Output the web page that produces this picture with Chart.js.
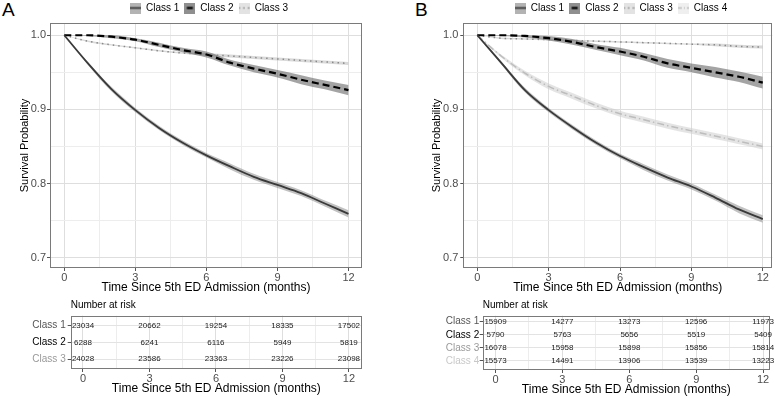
<!DOCTYPE html>
<html>
<head>
<meta charset="utf-8">
<script src="https://cdn.jsdelivr.net/npm/chart.js@4.4.1/dist/chart.umd.min.js"></script>
<style>
  html, body { margin: 0; padding: 0; background: #fff; overflow: hidden; width: 779px; height: 398px; }
  canvas { position: absolute; }
  .lab { position: absolute; font: 19px "Liberation Sans", Arial, sans-serif; color: #000; }
</style>
</head>
<body>
<div class="lab" style="left:2px;top:-1px">A</div>
<div class="lab" style="left:415px;top:-1px">B</div>
<canvas id="mainA" width="418" height="298" style="left:0;top:0"></canvas>
<canvas id="mainB" width="462" height="298" style="left:390px;top:0"></canvas>
<canvas id="riskA" width="390" height="103" style="left:0;top:295px"></canvas>
<canvas id="riskB" width="389" height="103" style="left:390px;top:295px"></canvas>
<script>
// survival estimates, one value per month
const months = [0, 1, 2, 3, 4, 5, 6, 7, 8, 9, 10, 11, 12];
const classNames = ["Class 1", "Class 2", "Class 3", "Class 4"];

// panel A
const survA1 = [1.000, 0.962, 0.927, 0.899, 0.875, 0.855, 0.838, 0.823, 0.809, 0.798, 0.787, 0.773, 0.759];
const lowA1  = [1.000, 0.960, 0.924, 0.896, 0.872, 0.852, 0.835, 0.819, 0.805, 0.794, 0.783, 0.769, 0.754];
const highA1 = [1.000, 0.964, 0.930, 0.902, 0.878, 0.858, 0.841, 0.827, 0.813, 0.802, 0.791, 0.777, 0.764];
const survA2 = [1.000, 1.000, 0.998, 0.994, 0.987, 0.980, 0.974, 0.963, 0.955, 0.948, 0.940, 0.933, 0.926];
const lowA2  = [1.000, 0.999, 0.996, 0.992, 0.984, 0.977, 0.970, 0.959, 0.950, 0.943, 0.934, 0.927, 0.919];
const highA2 = [1.000, 1.000, 1.000, 0.996, 0.990, 0.983, 0.978, 0.967, 0.960, 0.953, 0.946, 0.939, 0.933];
const survA3 = [1.000, 0.992, 0.987, 0.983, 0.979, 0.976, 0.974, 0.972, 0.970, 0.968, 0.966, 0.964, 0.962];
const lowA3  = [1.000, 0.991, 0.986, 0.982, 0.978, 0.975, 0.972, 0.970, 0.968, 0.966, 0.964, 0.962, 0.960];
const highA3 = [1.000, 0.993, 0.988, 0.984, 0.980, 0.977, 0.976, 0.974, 0.972, 0.970, 0.968, 0.966, 0.964];

// panel B
const survB1 = [1.000, 0.963, 0.926, 0.899, 0.876, 0.855, 0.837, 0.822, 0.808, 0.796, 0.781, 0.765, 0.752];
const lowB1  = [1.000, 0.961, 0.923, 0.896, 0.873, 0.852, 0.834, 0.818, 0.804, 0.792, 0.777, 0.760, 0.747];
const highB1 = [1.000, 0.965, 0.929, 0.902, 0.879, 0.858, 0.840, 0.826, 0.812, 0.800, 0.785, 0.770, 0.757];
const survB2 = [1.000, 1.000, 0.999, 0.996, 0.991, 0.984, 0.978, 0.971, 0.962, 0.956, 0.950, 0.944, 0.936];
const lowB2  = [1.000, 0.999, 0.997, 0.993, 0.987, 0.980, 0.973, 0.966, 0.956, 0.950, 0.943, 0.937, 0.928];
const highB2 = [1.000, 1.000, 1.000, 0.999, 0.995, 0.988, 0.983, 0.976, 0.968, 0.962, 0.957, 0.951, 0.944];
const survB3 = [1.000, 0.996, 0.995, 0.994, 0.993, 0.992, 0.991, 0.990, 0.989, 0.988, 0.987, 0.985, 0.984];
const lowB3  = [1.000, 0.995, 0.994, 0.993, 0.992, 0.991, 0.990, 0.989, 0.988, 0.987, 0.985, 0.983, 0.982];
const highB3 = [1.000, 0.997, 0.996, 0.995, 0.994, 0.993, 0.992, 0.991, 0.990, 0.989, 0.989, 0.987, 0.986];
const survB4 = [1.000, 0.972, 0.949, 0.931, 0.918, 0.905, 0.894, 0.886, 0.878, 0.871, 0.864, 0.857, 0.850];
const lowB4  = [1.000, 0.970, 0.946, 0.927, 0.914, 0.901, 0.890, 0.882, 0.874, 0.867, 0.860, 0.853, 0.846];
const highB4 = [1.000, 0.974, 0.952, 0.935, 0.922, 0.909, 0.898, 0.890, 0.882, 0.875, 0.868, 0.861, 0.854];

// number at risk tables
const riskTimes = [0, 3, 6, 9, 12];
const riskA1 = [23034, 20662, 19254, 18335, 17502];
const riskA2 = [6288, 6241, 6116, 5949, 5819];
const riskA3 = [24028, 23586, 23363, 23226, 23098];
const riskB1 = [15909, 14277, 13273, 12596, 11973];
const riskB2 = [5790, 5763, 5656, 5519, 5409];
const riskB3 = [16078, 15958, 15898, 15856, 15814];
const riskB4 = [15573, 14491, 13906, 13539, 13223];

// looks
const lineColor = ["#3a3a3a", "#000000", "#8a8a8a", "#bdbdbd"];
const lineWidth = [1.8, 2.2, 1.5, 1.5];
const lineDash = [[], [7, 4], [1.5, 4], [7, 3, 1.5, 3]];
const bandColor = ["rgba(120,120,120,0.45)", "rgba(90,90,90,0.55)", "rgba(170,170,170,0.45)", "rgba(205,205,205,0.55)"];
const keyFill = ["#b3b3b3", "#8f8f8f", "#e3e3e3", "#efefef"];
const keyDash = [[], [], [1.5, 3], [4, 2, 1, 2]];
const rowColor = ["#555555", "#000000", "#999999", "#c8c8c8"];

Chart.defaults.font.family = '"Liberation Sans", Arial, sans-serif';
Chart.defaults.animation = false;

const isMajorX = v => Math.abs(v / 3 - Math.round(v / 3)) < 1e-6;
const isMajorY = v => Math.abs(v * 10 - Math.round(v * 10)) < 1e-6;
const pts = arr => months.map((m, i) => ({ x: m, y: arr[i] }));

// grey panel border on top of everything
const frame = {
  id: "frame",
  afterDatasetsDraw(chart) {
    const a = chart.chartArea, c = chart.ctx;
    c.save();
    c.strokeStyle = "#7a7a7a";
    c.lineWidth = 1;
    c.strokeRect(Math.round(a.left) + 0.5, Math.round(a.top) + 0.5,
      Math.round(a.right - a.left) - 1, Math.round(a.bottom - a.top) - 1);
    c.restore();
  }
};

function riskText(rows) {
  return {
    id: "riskText",
    afterDatasetsDraw(chart) {
      const { ctx, chartArea } = chart;
      const x = chart.scales.x, y = chart.scales.y;
      ctx.save();
      ctx.font = '8px "Liberation Sans", Arial, sans-serif';
      ctx.fillStyle = "#1a1a1a";
      ctx.textAlign = "center";
      ctx.textBaseline = "middle";
      rows.forEach((row, i) => row.forEach((v, j) => {
        ctx.fillText(String(v), x.getPixelForValue(riskTimes[j]), y.getPixelForValue(i + 1));
      }));
      ctx.font = '10px "Liberation Sans", Arial, sans-serif';
      ctx.textAlign = "left";
      ctx.fillStyle = "#000";
      ctx.fillText("Number at risk", chartArea.left, chartArea.top - 10);
      ctx.restore();
    }
  };
}

function keyImage(i) {
  const c = document.createElement("canvas");
  c.width = 11; c.height = 11;
  const g = c.getContext("2d");
  g.fillStyle = keyFill[i];
  g.fillRect(0, 0, 11, 11);
  g.strokeStyle = lineColor[i];
  g.lineWidth = lineWidth[i];
  g.setLineDash(keyDash[i]);
  g.beginPath();
  if (i === 1) { g.moveTo(2.5, 5.5); g.lineTo(8.5, 5.5); }
  else { g.moveTo(0, 5.5); g.lineTo(11, 5.5); }
  g.stroke();
  return c;
}

function xAxis(min, max, height, titlePad) {
  return {
    type: "linear", min: min, max: max,
    afterFit: s => { s.height = height; },
    ticks: {
      stepSize: 1.5, includeBounds: false, autoSkip: false, maxRotation: 0, padding: 0,
      color: "#4d4d4d", font: { size: 11 },
      callback: v => isMajorX(v) ? String(v) : ""
    },
    grid: {
      color: c => (c.tick && isMajorX(c.tick.value)) ? "#dedede" : "#ededed",
      tickLength: 3,
      tickColor: c => (c.tick && isMajorX(c.tick.value)) ? "#555" : "rgba(0,0,0,0)"
    },
    border: { display: false },
    title: {
      display: true, text: "Time Since 5th ED Admission (months)", color: "#000",
      font: { size: 12 }, padding: { top: 0, bottom: titlePad }
    }
  };
}

// empty right-hand axis: keeps the plot narrow while the legend stays centred on the canvas
function spacer(width) {
  return {
    type: "linear", position: "right", display: true,
    afterFit: s => { s.width = width; },
    ticks: { display: false }, grid: { display: false }, border: { display: false }
  };
}

function mainChart(id, surv, low, high, o) {
  const n = surv.length;
  const datasets = [];
  for (let i = 0; i < n; i++) {
    datasets.push({ data: pts(low[i]), borderColor: "rgba(0,0,0,0)", pointRadius: 0, fill: false,
      backgroundColor: bandColor[i], cubicInterpolationMode: "monotone", order: 1 });
    datasets.push({ data: pts(high[i]), borderColor: "rgba(0,0,0,0)", pointRadius: 0, fill: "-1",
      backgroundColor: bandColor[i], cubicInterpolationMode: "monotone", order: 1 });
  }
  for (let i = 0; i < n; i++) {
    datasets.push({ label: classNames[i], data: pts(surv[i]), borderColor: lineColor[i],
      borderWidth: lineWidth[i], borderDash: lineDash[i], pointRadius: 0, fill: false,
      cubicInterpolationMode: "monotone", order: 0 });
  }
  const keys = classNames.slice(0, n).map((t, i) => keyImage(i));
  return new Chart(document.getElementById(id), {
    type: "line",
    data: { datasets: datasets },
    options: {
      responsive: false, maintainAspectRatio: false, events: [],
      layout: { padding: { top: -2, right: 0, left: 0, bottom: 0 } },
      plugins: {
        tooltip: { enabled: false },
        legend: {
          position: "top",
          labels: {
            usePointStyle: true, pointStyleWidth: 11, boxHeight: 10, padding: 5,
            color: "#1a1a1a", font: { size: 10 },
            generateLabels: () => classNames.slice(0, n).map((t, i) => ({
              text: t, pointStyle: keys[i], fillStyle: keyFill[i], strokeStyle: "rgba(0,0,0,0)",
              lineWidth: 0, hidden: false, datasetIndex: 2 * n + i
            }))
          }
        }
      },
      scales: {
        x: xAxis(o.xmin, o.xmax, 30, 2.8),
        y: {
          type: "linear", min: 0.686, max: 1.0165,
          afterFit: s => { s.width = o.yw; },
          ticks: {
            stepSize: 0.05, includeBounds: false, autoSkip: false, padding: o.ytick,
            color: "#4d4d4d", font: { size: 11 },
            callback: v => isMajorY(v) ? v.toFixed(1) : ""
          },
          grid: {
            color: c => (c.tick && isMajorY(c.tick.value)) ? "#dedede" : "#ededed",
            tickLength: 3,
            tickColor: c => (c.tick && isMajorY(c.tick.value)) ? "#555" : "rgba(0,0,0,0)"
          },
          border: { display: false },
          title: {
            display: true, text: "Survival Probability", color: "#000",
            font: { size: 11 }, padding: { top: o.ytitle, bottom: 0 }
          }
        },
        y2: spacer(o.right)
      }
    },
    plugins: [frame]
  });
}

function riskChart(id, rows, o) {
  const names = classNames.slice(0, rows.length);
  return new Chart(document.getElementById(id), {
    type: "scatter",
    data: { datasets: [] },
    options: {
      responsive: false, maintainAspectRatio: false, events: [],
      layout: { padding: { top: 20.7, right: o.right, left: 0, bottom: 0 } },
      plugins: { legend: { display: false }, tooltip: { enabled: false } },
      scales: {
        x: xAxis(o.xmin, o.xmax, o.xh, o.xpad),
        y: {
          type: "linear", reverse: true, min: o.ymin, max: o.ymax,
          afterFit: s => { s.width = o.yw; },
          afterBuildTicks: s => { s.ticks = names.map((t, i) => ({ value: i + 1 })); },
          ticks: {
            padding: o.ytick, font: { size: 10 },
            color: c => rowColor[c.index],
            callback: v => names[v - 1]
          },
          grid: { color: "#e3e3e3", tickLength: 3, tickColor: "#555" },
          border: { display: false }
        }
      }
    },
    plugins: [frame, riskText(rows)]
  });
}

mainChart("mainA", [survA1, survA2, survA3], [lowA1, lowA2, lowA3], [highA1, highA2, highA3],
  { xmin: -0.603, xmax: 12.57, yw: 50, right: 56, ytick: 1, ytitle: 18.4 });
mainChart("mainB", [survB1, survB2, survB3, survB4], [lowB1, lowB2, lowB3, lowB4], [highB1, highB2, highB3, highB4],
  { xmin: -0.589, xmax: 12.40, yw: 73.3, right: 79.7, ytick: 2, ytitle: 40.5 });

riskChart("riskA", [riskA1, riskA2, riskA3],
  { xmin: -0.555, xmax: 12.59, xh: 29, xpad: 1.8, ymin: 0.4, ymax: 3.6, yw: 70.7, right: 28, ytick: 2 });
riskChart("riskB", [riskB1, riskB2, riskB3, riskB4],
  { xmin: -0.574, xmax: 12.31, xh: 28, xpad: 1.5, ymin: 0.54, ymax: 4.69, yw: 92.7, right: 9, ytick: 0.5 });
</script>
</body>
</html>
